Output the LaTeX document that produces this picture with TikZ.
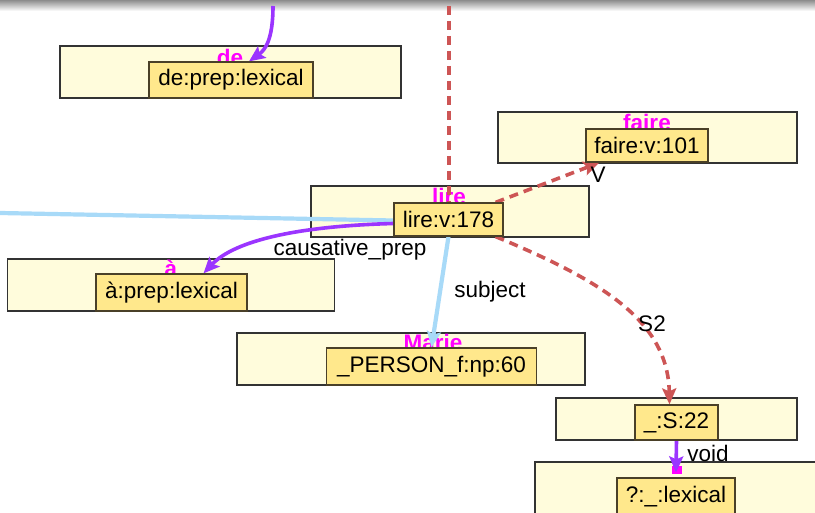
\documentclass[tikz,border=0pt]{standalone}
\usepackage{fontspec}
\setmainfont{Liberation Sans}
\usetikzlibrary{arrows.meta,calc}
\definecolor{outerfill}{HTML}{FFFCDC}
\definecolor{outerdraw}{HTML}{333333}
\definecolor{innerfill}{HTML}{FFE88C}
\definecolor{innerdraw}{HTML}{4A4028}
\definecolor{purp}{HTML}{9B35FF}
\definecolor{lblue}{HTML}{A8DAF8}
\definecolor{redc}{HTML}{CD5555}
\definecolor{wordmag}{HTML}{FF00FF}
\newcommand\wordsize{\fontsize{22.5}{27}\selectfont}
\pgfdeclarelayer{bglayer}
\pgfdeclarelayer{edgelayer}
\pgfsetlayers{bglayer,edgelayer,main}
\tikzset{
  outerbox/.style={draw=outerdraw, line width=1.3pt, fill=outerfill, inner sep=0pt},
  innerbox/.style={draw=innerdraw, line width=1.2pt, fill=innerfill, inner sep=0pt, font=\wordsize},
  wlabel/.style={text=wordmag, font=\bfseries\wordsize, inner sep=0pt, anchor=base},
  elabel/.style={font=\wordsize, inner sep=0pt, anchor=base},
  purpedge/.style={draw=purp, line width=3.6pt, -{Stealth[length=16pt,width=14pt,inset=3pt]}},
  blueedge/.style={draw=lblue, line width=4.2pt},
  rededge/.style={draw=redc, line width=3.6pt, dash pattern=on 9pt off 6pt},
  redtip/.style={-{Stealth[length=16pt,width=14pt,inset=3pt]}}
}
\begin{document}
\begin{tikzpicture}[x=1pt,y=-1pt]
\clip (0,0) rectangle (815,513);
% inner boxes (main layer, on top)
\node[innerbox, minimum width=164pt, minimum height=36pt] (deI) at (231,80) {de:prep:lexical};
\node[innerbox, minimum width=122pt, minimum height=33pt] (faireI) at (647,145.5) {faire:v:101};
\node[innerbox, minimum width=109pt, minimum height=33pt] (lireI) at (448.5,219.5) {lire:v:178};
\node[innerbox, minimum width=151pt, minimum height=37pt] (aI) at (171.5,292.5) {à:prep:lexical};
\node[innerbox, minimum width=210pt, minimum height=37pt] (marieI) at (431.5,366.5) {\_PERSON\_f:np:60};
\node[innerbox, minimum width=83pt, minimum height=35pt] (s22I) at (676.5,422.5) {\_:S:22};
\node[innerbox, minimum width=118pt, minimum height=37pt] (lexI) at (676,496.5) {?:\_:lexical};
% edge labels
\node[elabel] (lbCaus) at (350,256) {causative\_prep};
\node[elabel] (lbSubj) at (490,298) {subject};
\node[elabel] (lbV) at (598,183) {V};
\node[elabel] (lbS2) at (652,332) {S2};
\node[elabel] (lbVoid) at (708,461) {void};
\begin{pgfonlayer}{bglayer}
\fill[white] (0,0) rectangle (815,513);
\shade[top color=black!45, bottom color=white] (0,0) rectangle (815,11);
% outer boxes
\node[outerbox, minimum width=341pt, minimum height=52pt] (deO) at (230.5,72) {};
\node[outerbox, minimum width=299pt, minimum height=51pt] (faireO) at (647.5,137.5) {};
\node[outerbox, minimum width=278pt, minimum height=51pt] (lireO) at (450,211.5) {};
\node[outerbox, minimum width=327pt, minimum height=52pt] (aO) at (171,285) {};
\node[outerbox, minimum width=348pt, minimum height=52pt] (marieO) at (411,359) {};
\node[outerbox, minimum width=241pt, minimum height=42pt] (s22O) at (676.5,419) {};
\node[outerbox, minimum width=295pt, minimum height=68pt] (lexO) at (682.5,496) {};
% word labels
\node[wlabel] (deL) at (230,66) {de};
\node[wlabel] (faireL) at (647,131) {faire};
\node[wlabel] (lireL) at (449,205) {lire};
\node[wlabel] (aL) at (171,277) {à};
\node[wlabel] (marieL) at (433,351) {Marie};
\node[fill=wordmag, inner sep=0pt, minimum width=10pt, minimum height=8pt] (lexL) at (677,470) {};
\end{pgfonlayer}
\begin{pgfonlayer}{edgelayer}
\coordinate (topP) at (273,6);
\coordinate (topR) at (449,6);
\coordinate (leftB) at (0,213);
\draw[rededge] (topR) -- (topR |- lireI.north);
\draw[blueedge] (leftB) -- ($(lireI.west)+(0,1)$);
\draw[purpedge] (topP) .. controls (273,40) and (265,50) .. ($(deI.north)+(18,0)$);
\draw[purpedge] ($(lireI.west)+(0,4)$) .. controls (300,226) and (235,240) .. ($(aI.north)+(32,0)$);
\draw[blueedge, -{Stealth[length=16pt,width=14pt,inset=3pt]}] (lireI.south) -- (marieI.north);
\draw[rededge, redtip] ($(lireI.north east)+(-8,0)$) -- ($(faireI.south west)+(14,0)$);
\draw[rededge, redtip] ($(lireI.south east)+(-8,0)$) .. controls (600,280) and (668,320) .. ($(s22I.north)+(-7,0)$);
\draw[purpedge] (s22I.south) -- ($(lexI.north)+(0,-5)$);
\end{pgfonlayer}
\end{tikzpicture}
\end{document}
